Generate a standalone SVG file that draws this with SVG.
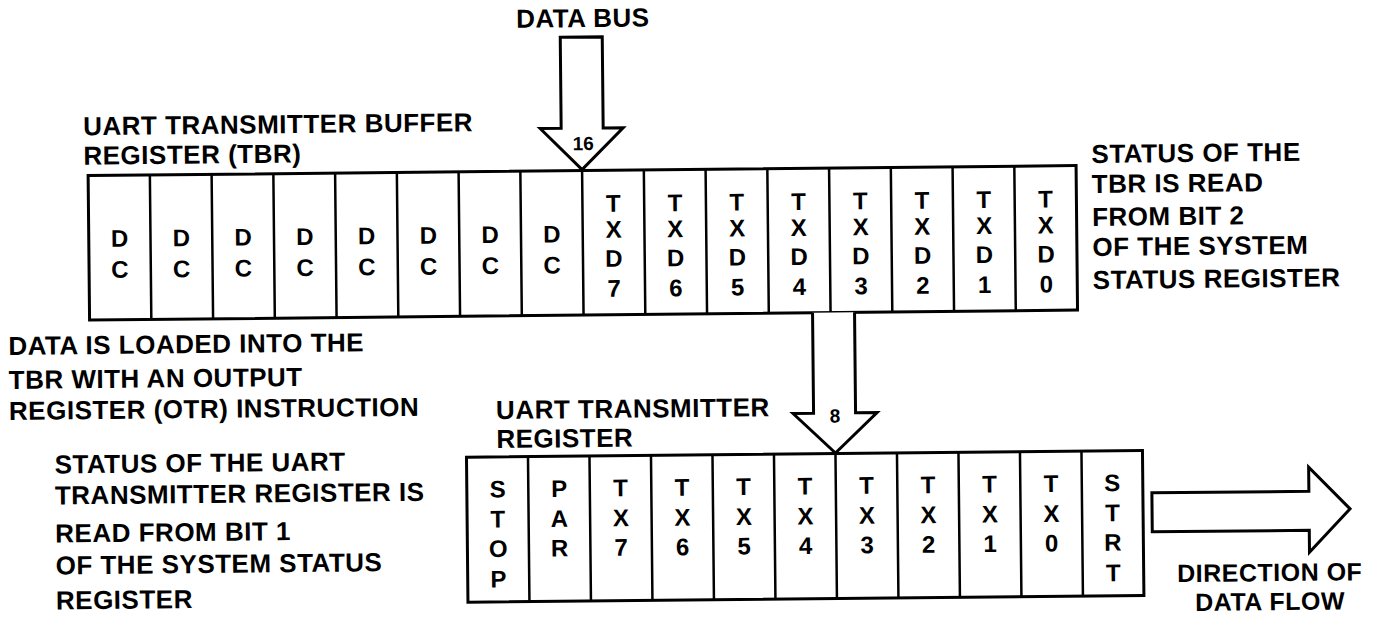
<svg xmlns="http://www.w3.org/2000/svg" width="1383" height="618" viewBox="0 0 1383 618">
<style>
text{font-family:"Liberation Sans",Arial,sans-serif;font-weight:bold;fill:#000}
.lbl{font-size:26px;letter-spacing:0.5px}
.sm{font-size:25px}
.cell{font-size:24px;text-anchor:middle}
.num{font-size:19px;text-anchor:middle}
.box{fill:#fff;stroke:#000;stroke-width:3}
.div{stroke:#000;stroke-width:2.5}
.arr{fill:#fff;stroke:#000;stroke-width:3;stroke-linejoin:miter}
</style>
<rect width="1383" height="618" fill="#fff"/>
<g transform="rotate(-0.58 691 309)">
<g id="tbr">
<rect class="box" x="89.5" y="169.5" width="988" height="144.5"/>
<path class="div" d="M151.25 169.5V314M213 169.5V314M274.75 169.5V314M336.5 169.5V314M398.25 169.5V314M460 169.5V314M521.75 169.5V314M583.5 169.5V314M645.25 169.5V314M707 169.5V314M768.75 169.5V314M830.5 169.5V314M892.25 169.5V314M954 169.5V314M1015.75 169.5V314"/>
<g class="cell">
<text x="120.4" y="241">D</text><text x="120.4" y="272">C</text>
<text x="182.1" y="241">D</text><text x="182.1" y="272">C</text>
<text x="243.9" y="241">D</text><text x="243.9" y="272">C</text>
<text x="305.6" y="241">D</text><text x="305.6" y="272">C</text>
<text x="367.4" y="241">D</text><text x="367.4" y="272">C</text>
<text x="429.1" y="241">D</text><text x="429.1" y="272">C</text>
<text x="490.9" y="241">D</text><text x="490.9" y="272">C</text>
<text x="552.6" y="241">D</text><text x="552.6" y="272">C</text>
<text x="614.4" y="211">T</text><text x="614.4" y="237">X</text><text x="614.4" y="266">D</text><text x="614.4" y="296">7</text>
<text x="676.1" y="211">T</text><text x="676.1" y="237">X</text><text x="676.1" y="266">D</text><text x="676.1" y="296">6</text>
<text x="737.9" y="211">T</text><text x="737.9" y="237">X</text><text x="737.9" y="266">D</text><text x="737.9" y="296">5</text>
<text x="799.6" y="211">T</text><text x="799.6" y="237">X</text><text x="799.6" y="266">D</text><text x="799.6" y="296">4</text>
<text x="861.4" y="211">T</text><text x="861.4" y="237">X</text><text x="861.4" y="266">D</text><text x="861.4" y="296">3</text>
<text x="923.1" y="211">T</text><text x="923.1" y="237">X</text><text x="923.1" y="266">D</text><text x="923.1" y="296">2</text>
<text x="984.9" y="211">T</text><text x="984.9" y="237">X</text><text x="984.9" y="266">D</text><text x="984.9" y="296">1</text>
<text x="1046.6" y="211">T</text><text x="1046.6" y="237">X</text><text x="1046.6" y="266">D</text><text x="1046.6" y="296">0</text>
</g>
</g>
<g id="utr">
<rect class="box" x="465" y="455" width="676" height="145"/>
<path class="div" d="M526.5 455V600M588 455V600M649.5 455V600M711 455V600M772.5 455V600M834 455V600M895.5 455V600M957 455V600M1018.5 455V600M1080 455V600"/>
<g class="cell">
<text x="495.75" y="495.5">S</text><text x="495.75" y="525.5">T</text><text x="495.75" y="555">O</text><text x="495.75" y="585.5">P</text>
<text x="557.25" y="495.5">P</text><text x="557.25" y="525.5">A</text><text x="557.25" y="555">R</text>
<text x="618.75" y="495.5">T</text><text x="618.75" y="525.5">X</text><text x="618.75" y="555">7</text>
<text x="680.25" y="495.5">T</text><text x="680.25" y="525.5">X</text><text x="680.25" y="555">6</text>
<text x="741.75" y="495.5">T</text><text x="741.75" y="525.5">X</text><text x="741.75" y="555">5</text>
<text x="803.25" y="495.5">T</text><text x="803.25" y="525.5">X</text><text x="803.25" y="555">4</text>
<text x="864.75" y="495.5">T</text><text x="864.75" y="525.5">X</text><text x="864.75" y="555">3</text>
<text x="926.25" y="495.5">T</text><text x="926.25" y="525.5">X</text><text x="926.25" y="555">2</text>
<text x="987.75" y="495.5">T</text><text x="987.75" y="525.5">X</text><text x="987.75" y="555">1</text>
<text x="1049.25" y="495.5">T</text><text x="1049.25" y="525.5">X</text><text x="1049.25" y="555">0</text>
<text x="1110.5" y="495.5">S</text><text x="1110.5" y="525.5">T</text><text x="1110.5" y="555">R</text><text x="1110.5" y="585.5">T</text>
</g>
</g>
<g id="connectors">
<path class="arr" d="M563 36H605V127H625L583.5 168.5L542 127H563Z"/>
<text class="num" x="585" y="149">16</text>
<path class="arr" d="M812.5 314V414.5H792L834 454.5L876 414.5H854.5V314"/>
<text class="num" x="834" y="424">8</text>
<path class="arr" d="M1150 497.5H1307V473.5L1348 515.5L1307 558.5V536.5H1150Z"/>
</g>
<g id="labels" class="lbl">
<text x="519" y="26">DATA BUS</text>
<text x="85" y="129">UART TRANSMITTER BUFFER</text>
<text x="85" y="158.5">REGISTER (TBR)</text>
<text x="1093" y="167">STATUS OF THE</text>
<text x="1093" y="197">TBR IS READ</text>
<text x="1093" y="230">FROM BIT 2</text>
<text x="1093" y="260">OF THE SYSTEM</text>
<text x="1093" y="293">STATUS REGISTER</text>
<text x="8" y="348">DATA IS LOADED INTO THE</text>
<text x="8" y="382">TBR WITH AN OUTPUT</text>
<text x="8" y="413">REGISTER (OTR) INSTRUCTION</text>
<text x="495" y="417">UART TRANSMITTER</text>
<text x="495" y="446">REGISTER</text>
<text x="53" y="467">STATUS OF THE UART</text>
<text x="53" y="498">TRANSMITTER REGISTER IS</text>
<text x="53" y="536">READ FROM BIT 1</text>
<text x="53" y="568">OF THE SYSTEM STATUS</text>
<text x="53" y="603">REGISTER</text>
<text class="sm" x="1267" y="587" text-anchor="middle">DIRECTION OF</text>
<text class="sm" x="1267" y="616" text-anchor="middle">DATA FLOW</text>
</g>
</g>
</svg>
